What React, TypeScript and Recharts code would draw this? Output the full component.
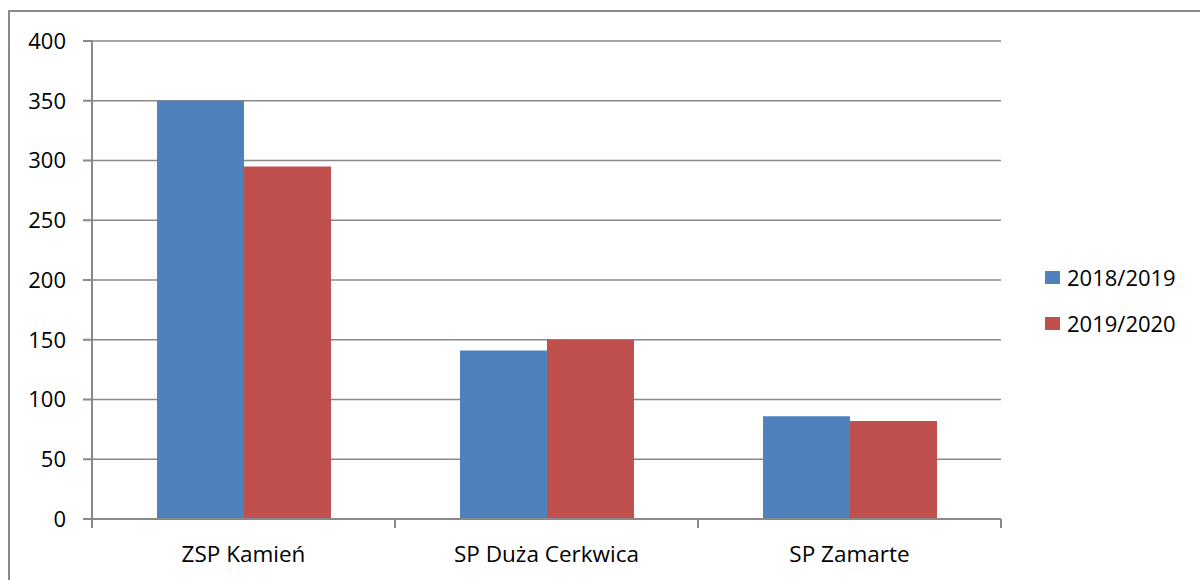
import React from 'react';
import { BarChart, Bar, XAxis, YAxis, CartesianGrid, Legend } from 'recharts';

const schools = ['ZSP Kamień', 'SP Duża Cerkwica', 'SP Zamarte'];
const year2018 = [350, 141, 86];
const year2019 = [295, 150, 82];
const yTicks = [0, 50, 100, 150, 200, 250, 300, 350, 400];

const data = schools.map((name, i) => ({
    name,
    '2018/2019': year2018[i],
    '2019/2020': year2019[i],
}));

const FONT = '"Open Sans", sans-serif';
const AXIS_GRAY = '#898989';
const TICK_SIZE = 9;
const TICK_MARGIN = 18;

// category labels plus the tick marks at the band edges (like Excel)
const CategoryTick = (props: any) => {
    const { x, y, payload } = props;
    const half = payload.offset || 0;
    const axisY = y - TICK_SIZE - TICK_MARGIN;
    return (
        <g>
            <line x1={x - half} x2={x - half} y1={axisY} y2={axisY + TICK_SIZE} stroke={AXIS_GRAY} strokeWidth={2} />
            <line x1={x + half} x2={x + half} y1={axisY} y2={axisY + TICK_SIZE} stroke={AXIS_GRAY} strokeWidth={2} />
            <text x={x} y={y} dy="0.71em" textAnchor="middle" fill="#000" fontSize={22.5} fontFamily={FONT}>
                {payload.value}
            </text>
        </g>
    );
};

const LegendContent = (props: any) => {
    const { payload } = props;
    return (
        <div style={{ fontFamily: FONT, fontSize: 22, color: '#000', textAlign: 'left' }}>
            {(payload || []).map((entry: any) => (
                <div key={entry.value} style={{ display: 'flex', alignItems: 'center', height: 46 }}>
                    <span style={{ display: 'inline-block', width: 15, height: 13, background: entry.color, marginRight: 7 }} />
                    <span>{entry.value}</span>
                </div>
            ))}
        </div>
    );
};

const App: React.FC = () => {
    return (
        <div style={{ position: 'fixed', left: 0, top: 0, width: 1200, height: 580, overflow: 'hidden', background: '#fff' }}>
            <div style={{ position: 'absolute', left: 8, top: 10, width: 1300, height: 700, border: `2px solid ${AXIS_GRAY}` }} />
            <div style={{ position: 'absolute', left: 0, top: 0 }}>
                <BarChart
                    width={1200}
                    height={580}
                    data={data}
                    margin={{ top: 41, right: 199, bottom: 0, left: 0 }}
                    barCategoryGap={65}
                    barGap={0}
                >
                    <CartesianGrid vertical={false} stroke={AXIS_GRAY} strokeWidth={1.5} />
                    <XAxis
                        dataKey="name"
                        height={61}
                        axisLine={{ stroke: AXIS_GRAY, strokeWidth: 2 }}
                        tickLine={false}
                        tickSize={TICK_SIZE}
                        tickMargin={TICK_MARGIN}
                        tick={<CategoryTick />}
                        interval={0}
                    />
                    <YAxis
                        width={92}
                        domain={[0, 400]}
                        ticks={yTicks}
                        interval={0}
                        axisLine={{ stroke: AXIS_GRAY, strokeWidth: 2 }}
                        tickLine={{ stroke: AXIS_GRAY, strokeWidth: 2 }}
                        tickSize={TICK_SIZE}
                        tickMargin={17}
                        tick={{ fill: '#000', fontSize: 22, fontFamily: FONT }}
                    />
                    <Legend
                        layout="vertical"
                        align="center"
                        verticalAlign="middle"
                        wrapperStyle={{ left: 1045, top: 254, width: 150 }}
                        content={<LegendContent />}
                    />
                    <Bar dataKey="2018/2019" fill="#4F81BD" isAnimationActive={false} />
                    <Bar dataKey="2019/2020" fill="#C0504D" isAnimationActive={false} />
                </BarChart>
            </div>
        </div>
    );
};

export default App;
